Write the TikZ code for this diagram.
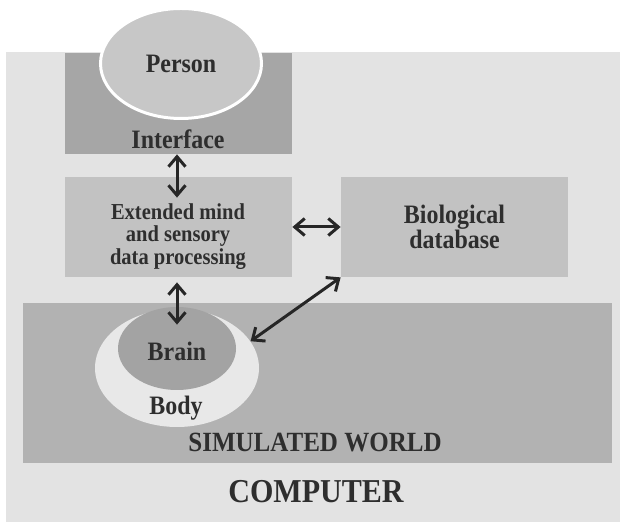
\documentclass[tikz,border=0pt]{standalone}
\usepackage{fontspec}
\setmainfont[FakeStretch=0.9]{Liberation Serif}
\usetikzlibrary{arrows.meta,shapes.geometric,positioning}

\tikzset{
  box/.style={rectangle,inner sep=0pt,fill=black!24},
  blob/.style={ellipse,inner sep=0pt},
  lbl/.style={text=black!82,inner sep=0pt,
    font=\bfseries\fontsize{13.3}{12.5}\selectfont},
  link/.style={black!85,line width=1.5pt,<->},
}

\begin{document}
\begin{tikzpicture}[x=0.5pt,y=-0.5pt,>={Straight Barb[length=5pt,width=8.5pt]}]
  \useasboundingbox (0,0) rectangle (620,522);
  \fill[white] (0,0) rectangle (620,522);

  \node[box,fill=black!11,minimum width=307pt,minimum height=235pt] (computer) at (313,287) {};

  \node[box,fill=black!35,minimum width=113.5pt,minimum height=50.5pt] (interface) at (178.5,103.5) {};
  \node[blob,fill=black!22,draw=white,line width=1.5pt,
    minimum width=80.5pt,minimum height=55pt,lbl] (person) at (181,63.5) {Person};
  \node[lbl] (interfacelbl) at (178,139) {Interface};

  \node[box,minimum width=113.5pt,minimum height=50pt] (ext) at (178.5,227) {};
  \node[lbl,align=center,font=\bfseries\fontsize{11.4}{11.2}\selectfont] (extlbl) at (178,236.5)
    {Extended mind\\and sensory\\data processing};

  \node[box,lbl,align=center,minimum width=113.5pt,minimum height=50pt] (bio) at (454.5,227)
    {Biological\\database};

  \node[box,fill=black!30,minimum width=294.5pt,minimum height=80pt] (sim) at (317.5,383) {};
  \node[blob,fill=black!9,minimum width=82pt,minimum height=59pt] (body) at (177,368) {};
  \node[blob,fill=black!36,minimum width=59pt,minimum height=41.5pt] (brain) at (177,348.5) {};
  \node[lbl] (brainlbl) at (177,351) {Brain};
  \node[lbl] (bodylbl) at (176,408) {Body};
  \node[lbl,font=\bfseries\fontsize{13.9}{14}\selectfont] (simlbl) at (315,443) {SIMULATED WORLD};
  \node[lbl,font=\bfseries\fontsize{16.7}{17}\selectfont] (computerlbl) at (316,492) {COMPUTER};

  \draw[link] ([xshift=-0.75pt]interface.south) -- ([xshift=-0.75pt,yshift=-10.5pt]ext.north);
  \draw[link] ([xshift=-0.75pt,yshift=-2.5pt]ext.south) -- ([yshift=-9pt]brain.north);
  \draw[link] (ext.east) -- (bio.west);
  \draw[link] (bio.south west) -- (body.20);
\end{tikzpicture}
\end{document}
